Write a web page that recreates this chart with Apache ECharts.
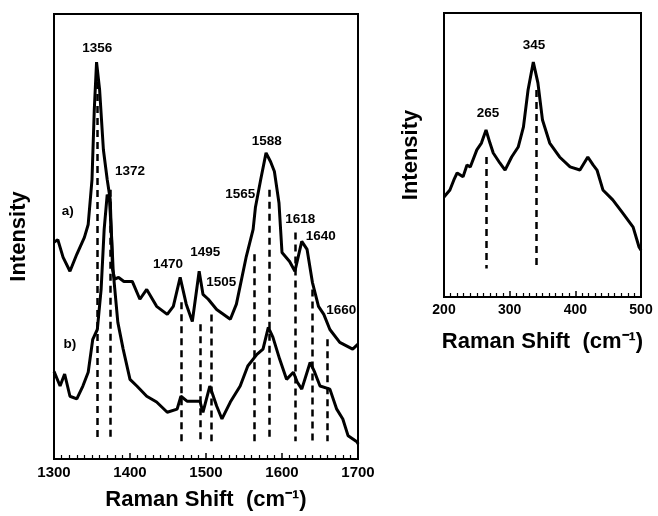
<!DOCTYPE html>
<html>
<head>
<meta charset="utf-8">
<script src="https://cdn.jsdelivr.net/npm/echarts@6/dist/echarts.min.js"></script>
<style>
  html, body { margin: 0; padding: 0; background: #fff; }
  #chart { width: 658px; height: 516px; }
</style>
</head>
<body>
<div id="chart"></div>
<script>
// Left panel: 1300-1700 cm-1, two spectra a) and b)
const traceA = [
  [1300, 48.7], [1305, 49.3], [1312, 45.3], [1321, 42.2], [1330, 46.0], [1340, 49.8],
  [1345, 52.7], [1350, 62.8], [1353, 78.5], [1356, 89.2], [1360, 83.0], [1365, 69.5],
  [1370, 62.8], [1374, 58.3], [1377, 42.6], [1380, 40.4], [1385, 40.8], [1392, 39.9],
  [1403, 39.9], [1413, 35.9], [1422, 38.1], [1435, 34.3], [1449, 32.5], [1457, 34.3],
  [1466, 40.8], [1474, 34.8], [1482, 30.9], [1491, 42.2], [1496, 37.0], [1503, 35.9],
  [1514, 33.6], [1532, 31.4], [1540, 34.8], [1553, 45.5], [1562, 51.6], [1565, 56.5],
  [1572, 62.8], [1579, 68.8], [1585, 66.8], [1590, 64.6], [1596, 57.6], [1600, 46.4],
  [1610, 44.4], [1617, 42.2], [1626, 48.9], [1633, 47.1], [1640, 39.7], [1648, 34.3],
  [1655, 32.5], [1663, 29.1], [1676, 26.2], [1693, 24.7], [1700, 25.8]
];
const traceB = [
  [1300, 19.7], [1308, 16.4], [1314, 19.1], [1321, 14.1], [1330, 13.5], [1338, 16.4],
  [1345, 19.5], [1351, 26.9], [1357, 29.1], [1362, 38.1], [1366, 51.6], [1370, 59.4],
  [1373, 58.3], [1376, 49.3], [1378, 41.9], [1384, 30.7], [1391, 24.7], [1400, 17.9],
  [1409, 16.4], [1422, 14.1], [1435, 12.8], [1449, 10.5], [1462, 11.2], [1467, 14.1],
  [1475, 13.0], [1492, 13.0], [1496, 10.5], [1505, 16.4], [1514, 11.9], [1521, 9.0],
  [1532, 12.8], [1545, 16.4], [1555, 20.9], [1567, 23.5], [1575, 24.7], [1582, 29.6],
  [1588, 27.4], [1597, 22.4], [1606, 17.9], [1615, 19.5], [1620, 17.3], [1626, 15.7],
  [1637, 21.7], [1643, 19.5], [1650, 16.4], [1663, 15.7], [1672, 11.2], [1680, 9.0],
  [1687, 5.2], [1699, 3.8], [1700, 3.4]
];
// dashed guide lines: position, top value
const leftGuides = [
  [1357, 87.4], [1374, 60.5], [1467, 35.2], [1493, 30.3], [1507, 32.5],
  [1563, 46.0], [1583, 60.5], [1617, 50.9], [1640, 38.1], [1660, 26.9]
];
const leftGuideBottom = 4;
const leftLabels = [
  ['1356', 1357, 92.4], ['1372', 1400, 64.6], ['1470', 1450, 43.7], ['1495', 1499, 46.4],
  ['1505', 1520, 39.7], ['1565', 1545, 59.4], ['1588', 1580, 71.3], ['1618', 1624, 53.8],
  ['1640', 1651, 50.0], ['1660', 1678, 33.4], ['a)', 1318, 55.6], ['b)', 1321, 25.8]
];

// Right panel: 200-500 cm-1
const traceLow = [
  [200, 35.2], [209, 37.7], [215, 41.2], [220, 43.7], [229, 42.3], [235, 46.5],
  [240, 45.8], [250, 51.8], [257, 54.2], [264, 58.8], [270, 54.2], [275, 50.7],
  [285, 47.2], [293, 44.7], [303, 49.3], [313, 52.8], [321, 59.9], [328, 72.9],
  [336, 82.7], [343, 75.4], [350, 62.3], [361, 54.2], [376, 49.3], [392, 45.8],
  [407, 44.7], [419, 49.3], [427, 46.5], [433, 44.7], [442, 37.7], [457, 34.2],
  [472, 29.6], [488, 24.6], [497, 17.6], [500, 16.5]
];
const rightGuides = [[264, 49.3], [341, 72.9]];
const rightGuideBottom = 10;
const rightLabels = [['265', 267, 64.8], ['345', 337, 88.7]];

const FONT = 'Liberation Sans';
const chart = echarts.init(document.getElementById('chart'));

function guideLines(guides, bottom) {
  return {
    silent: true,
    symbol: 'none',
    label: { show: false },
    lineStyle: { color: '#000', type: [7, 5], width: 2.5, opacity: 1 },
    emphasis: { disabled: true },
    data: guides.map(g => [{ coord: [g[0], g[1]] }, { coord: [g[0], bottom] }])
  };
}

function xAxisFor(gridIndex, min, max, labelSize, nameGap) {
  return {
    type: 'value', gridIndex, min, max, interval: 100,
    name: 'Raman Shift  (cm\u207B\u00B9)', nameLocation: 'middle', nameGap,
    nameTextStyle: { fontFamily: FONT, fontSize: 22, fontWeight: 'bold', color: '#000' },
    axisLine: { lineStyle: { color: '#000', width: 2 } },
    axisTick: { inside: true, length: 6, lineStyle: { color: '#000', width: 1.5 } },
    minorTick: { show: true, splitNumber: 10, length: 4, lineStyle: { color: '#000', width: 1.2 } },
    axisLabel: {
      fontFamily: FONT, fontSize: labelSize, fontWeight: 'bold', color: '#000', margin: 6,
      formatter: v => String(v)
    },
    splitLine: { show: false }
  };
}

function yAxisFor(gridIndex, nameGap) {
  return {
    type: 'value', gridIndex, min: 0, max: 100,
    name: 'Intensity', nameLocation: 'middle', nameGap,
    nameTextStyle: { fontFamily: FONT, fontSize: 22, fontWeight: 'bold', color: '#000' },
    axisLine: { show: true, lineStyle: { color: '#000', width: 2 } },
    axisTick: { show: false },
    axisLabel: { show: false },
    splitLine: { show: false }
  };
}

function labelSeries(labels, axisIndex) {
  return {
    type: 'scatter', xAxisIndex: axisIndex, yAxisIndex: axisIndex,
    symbolSize: 0, silent: true,
    itemStyle: { opacity: 1 },
    label: {
      show: true, position: 'inside', formatter: p => p.name,
      fontFamily: FONT, fontSize: 13.5, fontWeight: 'bold', color: '#000',
      textBorderWidth: 0, opacity: 1
    },
    data: labels.map(l => ({ name: l[0], value: [l[1], l[2]] }))
  };
}

const option = {
  animation: false,
  backgroundColor: '#fff',
  grid: [
    { left: 54, top: 14, width: 304, height: 446, show: true, borderColor: '#000', borderWidth: 2 },
    { left: 444, top: 13, width: 197, height: 284, show: true, borderColor: '#000', borderWidth: 2 }
  ],
  xAxis: [xAxisFor(0, 1300, 1700, 15, 30), xAxisFor(1, 200, 500, 14, 34)],
  yAxis: [yAxisFor(0, 24), yAxisFor(1, 22)],
  series: [
    {
      type: 'line', xAxisIndex: 0, yAxisIndex: 0, data: traceA, showSymbol: false,
      lineStyle: { color: '#000', width: 3 }, markLine: guideLines(leftGuides, leftGuideBottom)
    },
    {
      type: 'line', xAxisIndex: 0, yAxisIndex: 0, data: traceB, showSymbol: false,
      lineStyle: { color: '#000', width: 3 }
    },
    {
      type: 'line', xAxisIndex: 1, yAxisIndex: 1, data: traceLow, showSymbol: false,
      lineStyle: { color: '#000', width: 3 }, markLine: guideLines(rightGuides, rightGuideBottom)
    },
    labelSeries(leftLabels, 0),
    labelSeries(rightLabels, 1)
  ]
};

chart.setOption(option);
</script>
</body>
</html>
